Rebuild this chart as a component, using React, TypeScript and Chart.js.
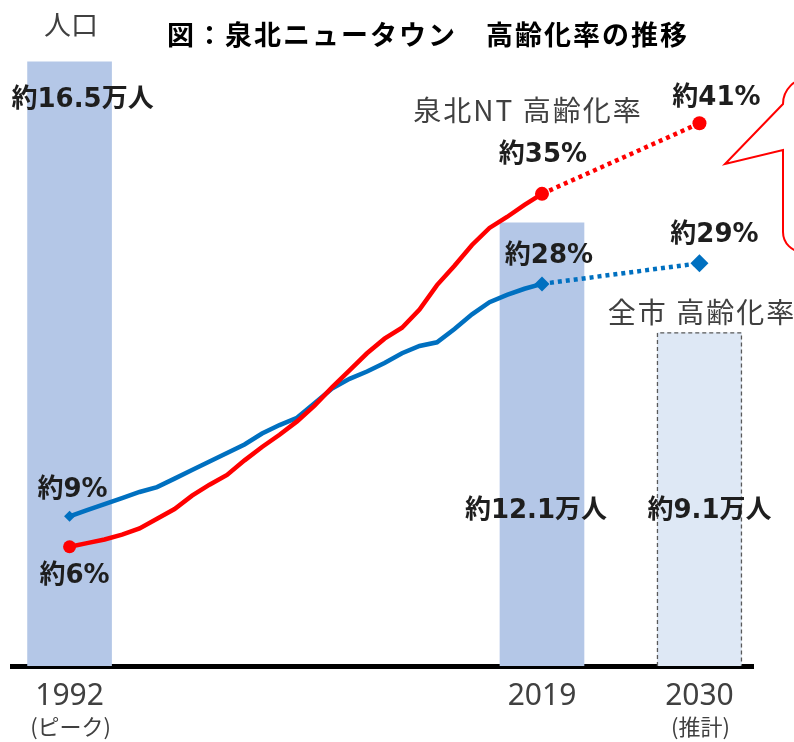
import React, { useEffect, useRef } from "react";
import { Chart, registerables } from "chart.js";

Chart.register(...registerables);

// ---- data ----
const barYears = [1992, 2019, 2030];
const population = [16.5, 12.1, 9.1]; // 万人
const barColors = ["#b4c7e7", "#b4c7e7", "#dee8f5"];

const ratioYears = [
  1992, 1993, 1994, 1995, 1996, 1997, 1998, 1999, 2000, 2001, 2002, 2003, 2004, 2005,
  2006, 2007, 2008, 2009, 2010, 2011, 2012, 2013, 2014, 2015, 2016, 2017, 2018, 2019, 2030,
];
const ntRatio = [
  6.0, 6.3, 6.6, 7.0, 7.5, 8.3, 9.1, 10.2, 11.1, 11.9, 13.1, 14.2, 15.2, 16.3,
  17.6, 19.1, 20.5, 21.9, 23.1, 24.0, 25.5, 27.5, 29.1, 30.8, 32.2, 33.1, 34.1, 35.0, 40.8,
];
const cityRatio = [
  8.5, 9.0, 9.5, 10.0, 10.5, 10.9, 11.6, 12.3, 13.0, 13.7, 14.4, 15.3, 16.0, 16.6,
  17.8, 19.0, 19.8, 20.4, 21.1, 21.9, 22.5, 22.8, 23.9, 25.1, 26.1, 26.7, 27.2, 27.6, 29.3,
];

const tickYears = [1992, 2019, 2030];
const tickNotes = ["(ピーク)", "", "(推計)"];

const TITLE = "図：泉北ニュータウン　高齢化率の推移";
const NT_NAME = "泉北NT 高齢化率";
const CITY_NAME = "全市 高齢化率";
const POP_LABEL = "人口";

// the future span (2019 -> 2030) is drawn compressed on the x axis, as in the original
const pos = (year: number) => (year <= 2019 ? year : 2019 + ((year - 2019) * 9) / 11);

const BOLD = '"DejaVu Sans", "Noto Sans CJK JP", sans-serif';
const CJK = '"Noto Sans CJK JP", sans-serif';

function txt(ctx: CanvasRenderingContext2D, s: string, x: number, y: number, font: string, color: string, spacing = "0px") {
  ctx.font = font;
  ctx.fillStyle = color;
  ctx.textAlign = "center";
  ctx.textBaseline = "middle";
  (ctx as any).letterSpacing = spacing;
  ctx.fillText(s, x, y);
  (ctx as any).letterSpacing = "0px";
}

const overlay = {
  id: "overlay",
  afterDatasetDraw(chart: any, args: any) {
    if (args.index !== 0) return;
    const meta = chart.getDatasetMeta(0);
    const el = meta.data[2];
    if (!el) return;
    const { x, y, width, base } = el.getProps(["x", "y", "width", "base"], true);
    const ctx = chart.ctx;
    ctx.save();
    ctx.setLineDash([4, 3]);
    ctx.strokeStyle = "#595959";
    ctx.lineWidth = 1.3;
    ctx.beginPath();
    ctx.moveTo(x - width / 2, base);
    ctx.lineTo(x - width / 2, y);
    ctx.lineTo(x + width / 2, y);
    ctx.lineTo(x + width / 2, base);
    ctx.stroke();
    ctx.restore();
  },
  afterDraw(chart: any) {
    const ctx: CanvasRenderingContext2D = chart.ctx;
    const xs = chart.scales.x;
    const yp = chart.scales.yPct;
    const yq = chart.scales.yPop;
    const X = (yr: number) => xs.getPixelForValue(pos(yr));
    const last = ratioYears.length - 1;
    const i19 = ratioYears.indexOf(2019);
    ctx.save();

    // speech bubble (decoration)
    const L = 783, T = 78, B = 252, R = 860, r1 = 26, r2 = 20;
    ctx.beginPath();
    ctx.moveTo(L, T + r1);
    ctx.lineTo(725, 164);
    ctx.lineTo(L, 150);
    ctx.lineTo(L, B - r2);
    ctx.arcTo(L, B, L + r2, B, r2);
    ctx.lineTo(R, B);
    ctx.lineTo(R, T);
    ctx.lineTo(L + r1, T);
    ctx.arcTo(L, T, L, T + r1, r1);
    ctx.closePath();
    ctx.fillStyle = "#ffffff";
    ctx.fill();
    ctx.strokeStyle = "#ff0000";
    ctx.lineWidth = 2;
    ctx.stroke();

    const lab = "#1e1e1e";
    const bf = `bold 26px ${BOLD}`;
    // title & captions
    txt(ctx, TITLE, 428, 35, `bold 27px ${CJK}`, "#000", "2px");
    txt(ctx, POP_LABEL, 71, 25, `27px ${CJK}`, "#404040");
    txt(ctx, NT_NAME, 528, 110, `28px ${CJK}`, "#404040", "2px");
    txt(ctx, CITY_NAME, 702, 312, `28px ${CJK}`, "#404040", "2px");

    // population labels
    txt(ctx, `約${population[0]}万人`, X(barYears[0]) + 13, yq.getPixelForValue(population[0]) + 38, bf, lab);
    txt(ctx, `約${population[1]}万人`, X(barYears[1]) - 6, 511, bf, lab);
    txt(ctx, `約${population[2]}万人`, X(barYears[2]) + 10, 511, bf, lab);

    // ratio labels
    txt(ctx, `約${Math.round(cityRatio[0])}%`, X(ratioYears[0]) + 3, yp.getPixelForValue(cityRatio[0]) - 26, bf, lab);
    txt(ctx, `約${Math.round(ntRatio[0])}%`, X(ratioYears[0]) + 5, yp.getPixelForValue(ntRatio[0]) + 30, bf, lab);
    txt(ctx, `約${Math.round(ntRatio[i19])}%`, X(2019) + 1, yp.getPixelForValue(ntRatio[i19]) - 39, bf, lab);
    txt(ctx, `約${Math.round(ntRatio[last])}%`, X(ratioYears[last]) + 17, yp.getPixelForValue(ntRatio[last]) - 25, bf, lab);
    txt(ctx, `約${Math.round(cityRatio[i19])}%`, X(2019) + 7, yp.getPixelForValue(cityRatio[i19]) - 28, bf, lab);
    txt(ctx, `約${Math.round(cityRatio[last])}%`, X(ratioYears[last]) + 15, yp.getPixelForValue(cityRatio[last]) - 28, bf, lab);

    // notes under year ticks
    tickYears.forEach((yr, i) => {
      if (tickNotes[i]) txt(ctx, tickNotes[i], X(yr) + 1, 727, `22px ${CJK}`, "#404040");
    });
    ctx.restore();
  },
};

export default function App() {
  const ref = useRef<HTMLCanvasElement>(null);
  useEffect(() => {
    if (!ref.current) return;
    const last = ratioYears.length - 1;
    const i19 = ratioYears.indexOf(2019);
    const chart = new Chart(ref.current, {
      data: {
        datasets: [
          {
            type: "bar",
            label: "人口",
            data: barYears.map((yr, i) => ({ x: pos(yr), y: population[i] })),
            backgroundColor: barColors,
            barThickness: 84,
            yAxisID: "yPop",
            order: 2,
          } as any,
          {
            type: "line",
            label: NT_NAME,
            data: ratioYears.map((yr, i) => ({ x: pos(yr), y: ntRatio[i] })),
            borderColor: "#ff0000",
            backgroundColor: "#ff0000",
            borderWidth: 4.5,
            tension: 0,
            yAxisID: "yPct",
            order: 1,
            pointStyle: "circle",
            pointBorderWidth: 0,
            pointRadius: (c: any) => (c.dataIndex === 0 ? 6.5 : c.dataIndex === i19 ? 7 : c.dataIndex === last ? 7 : 0),
            segment: { borderDash: (c: any) => (c.p1DataIndex === last ? [4, 4] : undefined) },
          } as any,
          {
            type: "line",
            label: CITY_NAME,
            data: ratioYears.map((yr, i) => ({ x: pos(yr), y: cityRatio[i] })),
            borderColor: "#0070c0",
            backgroundColor: "#0070c0",
            borderWidth: 4.5,
            tension: 0,
            yAxisID: "yPct",
            order: 1,
            pointStyle: "rectRot",
            pointBorderWidth: 0,
            pointRadius: (c: any) => (c.dataIndex === 0 ? 5.5 : c.dataIndex === i19 ? 7.5 : c.dataIndex === last ? 9 : 0),
            segment: { borderDash: (c: any) => (c.p1DataIndex === last ? [4, 4] : undefined) },
          } as any,
        ],
      },
      options: {
        animation: false,
        responsive: false,
        devicePixelRatio: 1,
        layout: { padding: { left: 12, right: 41, top: 60, bottom: 0 } },
        plugins: { legend: { display: false }, tooltip: { enabled: false }, title: { display: false } },
        scales: {
          x: {
            type: "linear",
            min: 1988.71,
            max: 2031.06,
            offset: false,
            z: 1,
            grid: { display: false, drawTicks: false, offset: false },
            border: { display: true, color: "#000", width: 5 },
            afterFit: (s: any) => {
              s.height = 76;
            },
            afterBuildTicks: (s: any) => {
              s.ticks = tickYears.map((yr) => ({ value: pos(yr) }));
            },
            ticks: {
              autoSkip: false,
              maxRotation: 0,
              padding: 12,
              color: "#404040",
              font: { family: '"Noto Sans", sans-serif', size: 30 },
              callback: (v: any) => {
                const i = tickYears.findIndex((yr) => Math.abs(pos(yr) - v) < 1e-6);
                return i >= 0 ? String(tickYears[i]) : "";
              },
            },
          },
          yPct: { type: "linear", display: false, min: -3.8, max: 46.0 },
          yPop: { type: "linear", display: false, min: 0, max: 16.55 },
        },
      } as any,
      plugins: [overlay],
    });
    return () => chart.destroy();
  }, []);
  return (
    <div style={{ position: "absolute", left: 0, top: 0, width: 794, height: 742, background: "#fff" }}>
      <canvas ref={ref} width={794} height={742} style={{ display: "block" }} />
    </div>
  );
}
